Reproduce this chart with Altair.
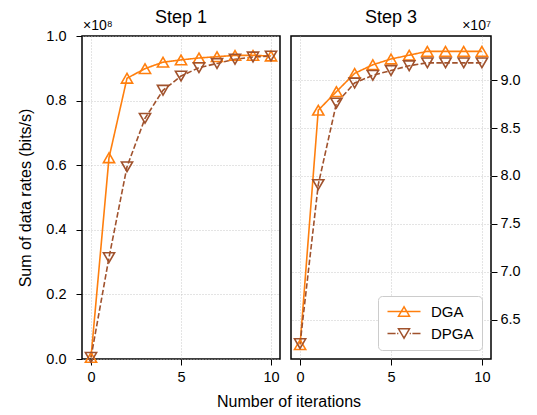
import altair as alt
import pandas as pd

FONT = "Liberation Sans"

iterations = list(range(11))
methods = ["DGA", "DPGA"]

# Step 1 values (in units of 1e8 bits/s)
step1_dga = [0.005, 0.623, 0.869, 0.899, 0.919, 0.926, 0.932, 0.936, 0.940, 0.940, 0.938]
step1_dpga = [0.005, 0.314, 0.595, 0.745, 0.832, 0.876, 0.902, 0.915, 0.928, 0.935, 0.938]
# Step 3 values (in units of 1e7 bits/s)
step3_dga = [6.24, 8.686, 8.88, 9.07, 9.16, 9.22, 9.26, 9.30, 9.30, 9.30, 9.30]
step3_dpga = [6.25, 7.91, 8.76, 8.97, 9.05, 9.10, 9.15, 9.18, 9.18, 9.18, 9.18]

step1_ticks = [0.0, 0.2, 0.4, 0.6, 0.8, 1.0]
step3_ticks = [6.5, 7.0, 7.5, 8.0, 8.5, 9.0]
x_ticks = [0, 5, 10]

colors = ["#ff7f0e", "#a0522d"]


def frame(dga, dpga, scale):
    rows = []
    for m, vals in zip(methods, [dga, dpga]):
        for i, v in zip(iterations, vals):
            rows.append({"iter": i, "rate": v * scale, "method": m})
    return pd.DataFrame(rows)


df1 = frame(step1_dga, step1_dpga, 1e8)
df3 = frame(step3_dga, step3_dpga, 1e7)

color_scale = alt.Scale(domain=methods, range=colors)
shape_scale = alt.Scale(domain=methods, range=["triangle-up", "triangle-down"])
dash_scale = alt.Scale(domain=methods, range=[[1, 0], [5.5, 2.4]])

# legend symbols: line (solid / dashed) + hollow triangle, in symbol units (6px)
PATH_UP = "M-1,0H4.5M1.75,-0.79L0.83,0.79L2.67,0.79Z"
PATH_DOWN = ("M-1,0H0.35M0.6,0H0.8M2.7,0H2.9M3.15,0H4.5"
             "M1.75,0.79L0.83,-0.79L2.67,-0.79Z")
legend_shape_scale = alt.Scale(domain=methods, range=[PATH_UP, PATH_DOWN])

legend = alt.Legend(
    title=None, orient="bottom-right", offset=9, fillColor="white",
    strokeColor="#cccccc", cornerRadius=4, padding=8, labelFontSize=15,
    labelFont=FONT, labelColor="black", symbolSize=144, symbolStrokeWidth=1.5,
    labelOffset=30, rowPadding=5,
)


def panel(df, ydomain, yticks, divisor, orient, title, ytitle, offset_text,
          off_align, off_x, show_legend, width, lab_pad):
    x = alt.X("iter:Q",
              scale=alt.Scale(domain=[-0.5, 10.5], nice=False, zero=False),
              axis=alt.Axis(values=x_ticks, title=None, format="d",
                            labelPadding=5))
    y = alt.Y("rate:Q",
              scale=alt.Scale(domain=ydomain, nice=False, zero=False),
              axis=alt.Axis(orient=orient, values=[t * divisor for t in yticks],
                            labelExpr=f"format(datum.value/{divisor}, '.1f')",
                            title=ytitle, labelPadding=lab_pad))
    base = alt.Chart(df)
    lines = base.mark_line(strokeWidth=1.6).encode(
        x=x, y=y,
        color=alt.Color("method:N", scale=color_scale, legend=None),
        strokeDash=alt.StrokeDash("method:N", scale=dash_scale, legend=None),
    )
    points = base.mark_point(filled=False, size=125, strokeWidth=1.6,
                             opacity=1).encode(
        x=x, y=y,
        color=alt.Color("method:N", scale=color_scale, legend=None),
        shape=alt.Shape("method:N", scale=shape_scale, legend=None),
    )
    off = alt.Chart(pd.DataFrame({"t": [offset_text]})).mark_text(
        align=off_align, baseline="alphabetic", fontSize=14, font=FONT
    ).encode(x=alt.value(off_x), y=alt.value(-6), text="t:N")
    layers = [lines, points, off]
    if show_legend:
        dummy = base.mark_point(filled=False, strokeWidth=1.5, opacity=1).encode(
            x=x, y=y,
            color=alt.Color("method:N", scale=color_scale, legend=legend),
            shape=alt.Shape("method:N", scale=legend_shape_scale, legend=legend),
        ).transform_filter("false")
        layers.append(dummy)
    return alt.layer(*layers).resolve_scale(
        shape="independent", color="independent"
    ).properties(
        width=width, height=323,
        title=alt.TitleParams(title, anchor="middle", frame="group",
                              fontSize=18, fontWeight="normal", font=FONT,
                              offset=-8),
    )


left = panel(df1, [0, 1e8], step1_ticks, 1e8, "left", "Step 1",
             "Sum of data rates (bits/s)", "×10⁸", "left", 1, False, 198, 10)
right = panel(df3, [6.09e7, 9.46e7], step3_ticks, 1e7, "right", "Step 3",
              None, "×10⁷", "right", 200, True, 200, 3)

chart = alt.hconcat(left, right, spacing=9).resolve_scale(
    color="independent", shape="independent", strokeDash="independent"
).properties(
    title=alt.TitleParams("Number of iterations", orient="bottom",
                          fontSize=16, fontWeight="normal", font=FONT,
                          anchor="middle", dx=20, offset=10),
    padding={"left": 9, "top": 0, "right": 5, "bottom": 0},
).configure_view(
    stroke="black", strokeWidth=1.5
).configure_axis(
    domain=False, grid=True, gridColor="#bbbbbb", gridDash=[1, 2],
    gridWidth=0.8, tickColor="black", tickSize=6, tickWidth=1,
    labelFont=FONT, labelFontSize=14.5, labelColor="black",
    titleFont=FONT, titleFontSize=16, titleFontWeight="normal",
    titleColor="black", titlePadding=12,
)

chart.save("out.html", embed_options={"renderer": "svg", "actions": False})
